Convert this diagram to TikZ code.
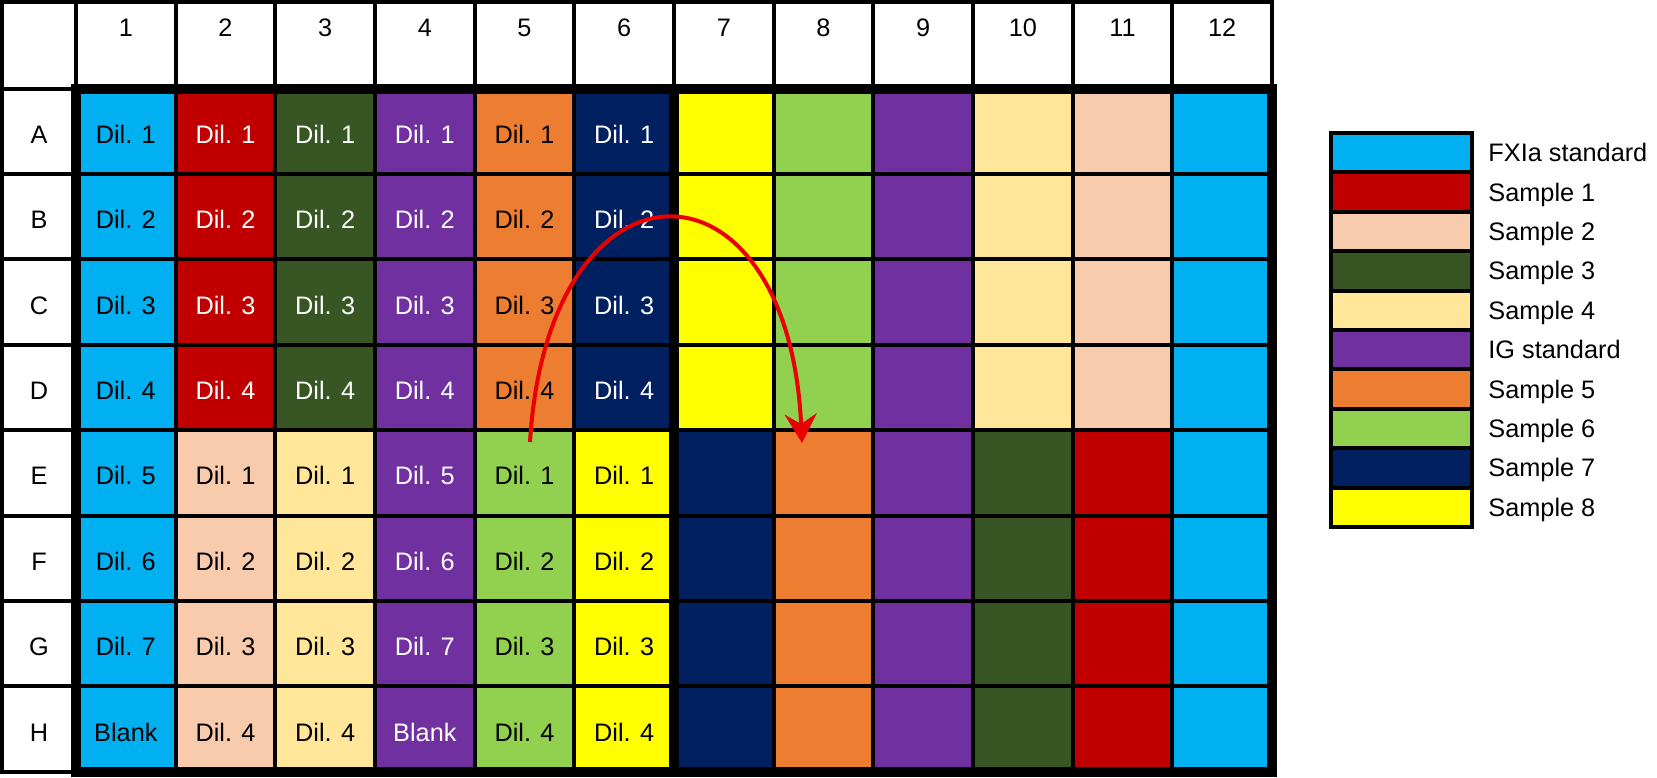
\documentclass[tikz,border=0pt]{standalone}
\usepackage{fontspec}
\setmainfont{Liberation Sans}
\usetikzlibrary{arrows.meta}
\definecolor{cFX}{HTML}{00B0F0}
\definecolor{cSa}{HTML}{C00000}
\definecolor{cSb}{HTML}{F8CBAD}
\definecolor{cSc}{HTML}{375623}
\definecolor{cSd}{HTML}{FFE699}
\definecolor{cIG}{HTML}{7030A0}
\definecolor{cSe}{HTML}{ED7D31}
\definecolor{cSf}{HTML}{92D050}
\definecolor{cSg}{HTML}{002060}
\definecolor{cSh}{HTML}{FFFF00}
\definecolor{arrowred}{RGB}{235,0,0}
\begin{document}
\begin{tikzpicture}[x=0.5pt,y=-0.5pt,
  font=\fontsize{12.65pt}{15pt}\selectfont,
  well/.style={draw=none,inner sep=0pt,minimum width=49.83pt,minimum height=42.7pt,text height=12pt,text depth=0pt},
  gridline/.style={line width=2pt,black},
  heavyline/.style={line width=5pt,black},
  swatch/.style={draw=black,line width=2pt,inner sep=0pt,minimum width=70.5pt,minimum height=19.7pt},
  legtext/.style={anchor=base west,inner sep=0pt},
  lbl/.style={inner sep=0pt,text height=12pt,text depth=0pt}]
\useasboundingbox (0,0) rectangle (1657,777);
% wells rows A-D
\foreach \rr/\rl/\nn in {1/A/1,2/B/2,3/C/3,4/D/4}{
  \foreach \cc/\cl/\tc/\txt in {1/cFX/black/{Dil. \nn},2/cSa/white/{Dil. \nn},3/cSc/white/{Dil. \nn},4/cIG/white/{Dil. \nn},5/cSe/black/{Dil. \nn},6/cSg/white/{Dil. \nn},7/cSh/black/{},8/cSf/black/{},9/cIG/white/{},10/cSd/black/{},11/cSb/black/{},12/cFX/black/{}}{
    \node[well,fill=\cl,text=\tc] (c-\rl-\cc) at ({76+(\cc-0.5)*99.667},{88.5+(\rr-0.5)*85.4}) {\txt};
  }
}
% wells rows E-H
\foreach \rr/\rl/\nn/\mm in {5/E/1/{Dil. 5},6/F/2/{Dil. 6},7/G/3/{Dil. 7},8/H/4/{Blank}}{
  \foreach \cc/\cl/\tc/\txt in {1/cFX/black/{\mm},2/cSb/black/{Dil. \nn},3/cSd/black/{Dil. \nn},4/cIG/white/{\mm},5/cSf/black/{Dil. \nn},6/cSh/black/{Dil. \nn},7/cSg/white/{},8/cSe/black/{},9/cIG/white/{},10/cSc/white/{},11/cSa/white/{},12/cFX/black/{}}{
    \node[well,fill=\cl,text=\tc] (c-\rl-\cc) at ({76+(\cc-0.5)*99.667},{88.5+(\rr-0.5)*85.4}) {\txt};
  }
}
% header numbers
\foreach \k in {1,...,12}{
  \node[lbl] (h-\k) at ({76+(\k-0.5)*99.667},{24.5}) {\k};
}
% row letters
\foreach \rr/\rl in {1/A,2/B,3/C,4/D,5/E,6/F,7/G,8/H}{
  \node[lbl] (l-\rl) at (39,{88.5+(\rr-0.5)*85.4}) {\rl};
}
% grid lines
\foreach \k in {1,...,11}{
  \draw[gridline] ({76+\k*99.667},2) -- ({76+\k*99.667},771.7);
}
\foreach \k in {1,...,7}{
  \draw[gridline] (2,{88.5+\k*85.4}) -- (1272,{88.5+\k*85.4});
}
\draw[gridline] (2,2) rectangle (1272,88.5);
\draw[gridline] (2,2) rectangle (76,771.7);
\draw[heavyline] (674,88.5) -- (674,771.7);
\draw[heavyline] (76,88.5) rectangle (1272,771.7);
% legend
\foreach \i/\cl/\txt in {1/cFX/FXIa standard,2/cSa/Sample 1,3/cSb/Sample 2,4/cSc/Sample 3,5/cSd/Sample 4,6/cIG/IG standard,7/cSe/Sample 5,8/cSf/Sample 6,9/cSg/Sample 7,10/cSh/Sample 8}{
  \node[swatch,fill=\cl] (sw-\i) at (1401.5,{133+(\i-0.5)*39.4}) {};
  \node[legtext] (lt-\i) at (1488,{133+(\i-0.5)*39.4+9}) {\txt};
}
% arrow
\coordinate (arrS) at (530,442);
\coordinate (arrE) at (802,443);
\draw[arrowred,line width=2pt,-{Stealth[length=14.5pt,width=16pt,inset=5pt]}] (arrS) .. controls (548,145) and (788,143) .. (arrE);
\end{tikzpicture}
\end{document}
